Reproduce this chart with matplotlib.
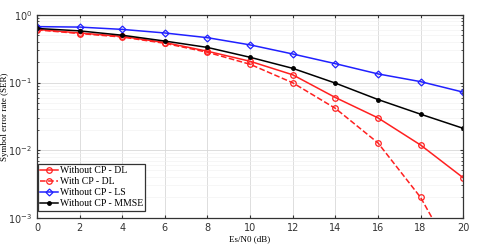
import numpy as np
import matplotlib.pyplot as plt

# Es/N0 (dB)
snr_db = [0, 2, 4, 6, 8, 10, 12, 14, 16, 18, 20]

# symbol error rate per method
ser_nocp_dl = [0.61, 0.54, 0.48, 0.39, 0.29, 0.206, 0.13, 0.060, 0.030, 0.0119, 0.0039]
ser_cp_dl = [0.60, 0.53, 0.47, 0.38, 0.28, 0.186, 0.099, 0.0415, 0.0128, 0.0020, 0.00015]
ser_nocp_ls = [0.67, 0.66, 0.61, 0.54, 0.46, 0.36, 0.264, 0.19, 0.134, 0.103, 0.072]
ser_nocp_mmse = [0.63, 0.58, 0.50, 0.41, 0.33, 0.236, 0.162, 0.098, 0.056, 0.034, 0.021]

fig = plt.figure(figsize=(4.8, 2.48), dpi=100)
ax = fig.add_axes([0.077, 0.122, 0.888, 0.818])

ax.semilogy(snr_db, ser_nocp_dl, '-o', color='#ff2020', lw=1.1, ms=4,
            mfc='none', mew=0.9, label='Without CP - DL')
ax.semilogy(snr_db, ser_cp_dl, '--o', color='#ff2020', lw=1.1, ms=4,
            mfc='none', mew=0.9, label='With CP - DL')
ax.semilogy(snr_db, ser_nocp_ls, '-D', color='#2020ff', lw=1.1, ms=3.5,
            mfc='none', mew=0.9, label='Without CP - LS')
ax.semilogy(snr_db, ser_nocp_mmse, '-o', color='black', lw=1.1, ms=2.5,
            label='Without CP - MMSE')

ax.set_xlim(0, 20)
ax.set_ylim(1e-3, 1)
ax.set_xticks(range(0, 21, 2))

ax.grid(True, which='major', color='#d8d8d8', lw=0.6)
ax.grid(True, which='minor', axis='y', color='#f0f0f0', lw=0.4)
ax.tick_params(which='both', direction='in', top=True, right=True,
               labelsize=7, colors='#333333', length=2.5)
ax.tick_params(which='minor', length=1.5)
for s in ax.spines.values():
    s.set_color('#333333')
    s.set_linewidth(0.9)

ax.set_xlabel('Es/N0 (dB)', family='Liberation Serif', fontsize=6.5, labelpad=2)
ax.set_ylabel('Symbol error rate (SER)', family='Liberation Serif', fontsize=6.5)
ax.yaxis.set_label_coords(-0.066, 0.5)

leg = ax.legend(loc='lower left', bbox_to_anchor=(0.0, 0.03),
                prop={'family': 'Liberation Serif', 'size': 7},
                fancybox=False, framealpha=1, edgecolor='#333333',
                borderpad=0.25, labelspacing=0.2, handlelength=1.8,
                handletextpad=0.2, borderaxespad=0.1)
leg.get_frame().set_linewidth(0.9)

fig.savefig('out.png', dpi=100)
